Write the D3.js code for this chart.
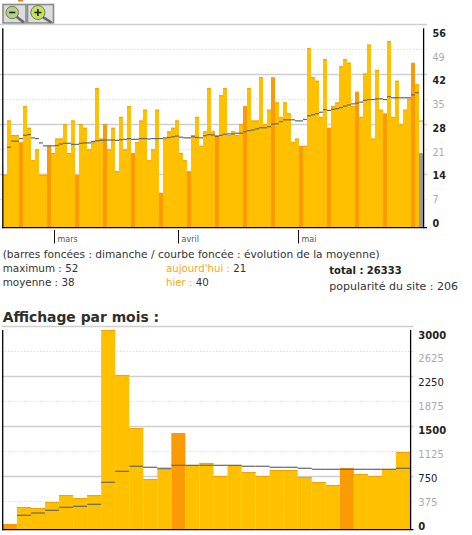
<!DOCTYPE html>
<html><head><meta charset="utf-8">
<script src="https://cdn.jsdelivr.net/npm/d3@7"></script>
<style>html,body{margin:0;padding:0;background:#fff;overflow:hidden}svg{display:block}</style>
</head><body>
<svg id="c" width="472" height="535"></svg>
<script>
// ---------- data: daily views (16 Feb 2011 -> 31 May 2011) ----------
const dailyVisits = [
  15,30,26,26,24,34,28,19,22,15,15,23,21,
  25,25,29,21,30,15,29,28,22,24,39,25,29,
  22,28,16,31,22,34,21,24,30,33,19,22,33,
  10,25,27,28,30,21,19,16,26,31,23,27,39,
  27,26,37,39,26,27,26,29,34,39,30,30,42,
  29,33,42,35,31,35,32,24,25,23,23,50,42,
  41,31,47,28,34,35,45,47,46,34,38,31,43,
  51,25,44,33,32,52,31,41,29,33,36,46,40,21
];
const dailyAverage = [
  null,22.6,24.3,24.3,25.0,25.9,26.1,25.2,25.0,23.8,23.0,23.0,23.0,
  23.1,23.5,23.7,23.7,23.4,23.4,23.7,23.8,23.8,24.2,24.4,24.5,24.6,
  24.6,24.6,24.5,24.7,24.8,25.0,24.8,24.8,25.0,25.0,24.9,25.0,25.0,
  25.0,25.2,25.3,25.5,25.7,25.4,25.2,25.2,25.5,25.3,25.2,25.8,26.1,
  26.0,25.6,25.9,26.2,26.3,26.3,26.5,26.5,26.9,27.2,27.4,27.7,28.0,
  28.0,28.3,29.0,29.1,29.7,30.2,30.2,30.2,29.9,29.9,30.3,31.3,31.6,
  31.9,32.3,33.0,32.8,33.1,33.3,33.6,34.0,34.3,34.6,34.8,35.1,35.6,
  35.8,35.8,36.0,36.0,35.8,36.6,36.3,36.3,36.3,36.3,36.3,37.1,37.7,null
];
const todayProjection = 30;
const days = d3.timeDay.range(new Date(2011,1,16), new Date(2011,5,1));
const monthTickDates = [new Date(2011,2,1), new Date(2011,3,1), new Date(2011,4,1)];
const monthTickLabels = ["mars","avril","mai"];
const dailyTickValues = [0,7,14,21,28,35,42,49,56];

// ---------- data: monthly views (Jan 2009 -> May 2011) ----------
const monthlyViews = [98,350,336,425,528,483,528,2975,2308,1522,765,914,
  1447,973,1003,810,973,869,810,899,899,795,721,676,
  928,839,810,914,1166];
const monthlyAverage = [null,227,261,301,346,360,390,716,879,954,939,924,
  968,968,968,968,968,954,954,939,939,924,909,909,
  909,909,909,909,924];
const months = d3.timeMonth.range(new Date(2009,0,1), new Date(2011,5,1));
const monthlyTickValues = [0,375,750,1125,1500,1875,2250,2625,3000];

const stats = {maximum:52, moyenne:38, aujourdhui:21, hier:40, total:26333, popularite:206};

// ---------- styles ----------
const YELLOW = "#FFC000", SUNDAY = "#FA9A05", EDGE = "#F6A200", AVG = "#666666";
const TEXT = "#333333", ORANGE_TXT = "#F7A823";

const svg = d3.select("#c");

// ---------- zoom icons ----------
function magnifier(g, x0, w, fill, sign) {
  g.append("rect").attr("x", x0).attr("y", 4.5).attr("width", w).attr("height", 18.5)
    .attr("fill", "#dcdcdc").attr("stroke", "#8a8a8a").attr("stroke-width", 1.6);
  const cx = x0 + w * 0.4, cy = 12.5, r = w * 0.27;
  g.append("line").attr("x1", cx + r * 0.6).attr("y1", cy + r * 0.6).attr("x2", x0 + w - 2).attr("y2", 22.5)
    .attr("stroke", "#666").attr("stroke-width", 2.6);
  g.append("circle").attr("cx", cx).attr("cy", cy).attr("r", r)
    .attr("fill", fill).attr("stroke", "#6f7f4f").attr("stroke-width", 1);
  g.append("line").attr("x1", cx - r * 0.5).attr("x2", cx + r * 0.5).attr("y1", cy).attr("y2", cy)
    .attr("stroke", "#222").attr("stroke-width", 1.6);
  if (sign === "+") g.append("line").attr("x1", cx).attr("x2", cx).attr("y1", cy - r * 0.5).attr("y2", cy + r * 0.5)
    .attr("stroke", "#222").attr("stroke-width", 1.6);
}
const icons = svg.append("g");
icons.append("rect").attr("x", 18).attr("y", 0).attr("width", 5).attr("height", 1.5).attr("fill", "#d9822b");
magnifier(icons, 3, 23, "#b9cc8e", "-");
magnifier(icons, 27.5, 26, "#c6e060", "+");

// ---------- generic chart ----------
function drawChart(cfg) {
  const g = svg.append("g");
  const x = d3.scaleBand().domain(cfg.cats).range([cfg.x0, cfg.x1]).paddingInner(0).paddingOuter(0);
  const y = d3.scaleLinear().domain([0, cfg.max]).range(cfg.valueRange);
  const gy = d3.scaleLinear().domain([0, cfg.max]).range(cfg.gridRange);
  const ly = d3.scaleLinear().domain([0, cfg.max]).range(cfg.labelRange);
  const base = cfg.base;

  // gridlines
  g.selectAll("line.grid").data(cfg.ticks.filter(t => t > 0)).join("line")
    .attr("x1", cfg.gridX0).attr("x2", cfg.gridX1)
    .attr("y1", d => Math.round(gy(d)) + 0.5).attr("y2", d => Math.round(gy(d)) + 0.5)
    .attr("stroke", (d, i) => (i % 2 === 1) ? "#cfcfcf" : "#d6d6d6")
    .attr("stroke-width", (d, i) => (i % 2 === 1) ? 1.3 : 1)
    .attr("stroke-dasharray", (d, i) => (i % 2 === 1) ? null : "1.2,2");

  // bars
  const bars = cfg.values.map((v, i) => ({v, i, c: cfg.cats[i]}));
  g.selectAll("rect.bar").data(bars).join("rect")
    .attr("x", d => x(d.c)).attr("width", x.bandwidth())
    .attr("y", d => d.i === cfg.todayIndex ? y(d.v) : y(d.v))
    .attr("height", d => base - y(d.v))
    .attr("fill", d => d.i === cfg.todayIndex ? "#9a9a9a" : (cfg.isDark(d.c) ? SUNDAY : YELLOW));
  // top edges of light bars
  g.selectAll("rect.edge").data(bars.filter(d => d.i !== cfg.todayIndex && !cfg.isDark(d.c))).join("rect")
    .attr("x", d => x(d.c)).attr("width", x.bandwidth())
    .attr("y", d => y(d.v)).attr("height", 1.1).attr("fill", EDGE);

  // today projection
  if (cfg.todayIndex != null) {
    const c = cfg.cats[cfg.todayIndex];
    g.append("rect").attr("x", x(c)).attr("width", x.bandwidth())
      .attr("y", y(cfg.projection)).attr("height", y(cfg.values[cfg.todayIndex]) - y(cfg.projection))
      .attr("fill", "#ececec");
    g.append("rect").attr("x", x(c)).attr("width", x.bandwidth())
      .attr("y", y(cfg.projection)).attr("height", 1.1).attr("fill", EDGE);
  }

  // average segments
  g.selectAll("line.avg").data(cfg.avg.map((v, i) => ({v, c: cfg.cats[i]})).filter(d => d.v != null)).join("line")
    .attr("x1", d => x(d.c)).attr("x2", d => x(d.c) + x.bandwidth())
    .attr("y1", d => y(d.v)).attr("y2", d => y(d.v))
    .attr("stroke", AVG).attr("stroke-width", 1.2);

  // axes lines
  const axisTop = cfg.axisTop;
  g.append("line").attr("x1", cfg.x0 - 0.2).attr("x2", cfg.x0 - 0.2).attr("y1", axisTop).attr("y2", base + 1.2)
    .attr("stroke", "#000").attr("stroke-width", 1.3);
  g.append("line").attr("x1", cfg.x1 + 0.6).attr("x2", cfg.x1 + 0.6).attr("y1", axisTop).attr("y2", base + 1.2)
    .attr("stroke", "#000").attr("stroke-width", 1.3);
  g.append("line").attr("x1", cfg.x0 - 0.8).attr("x2", cfg.gridX1).attr("y1", base + 0.6).attr("y2", base + 0.6)
    .attr("stroke", "#000").attr("stroke-width", 1.3);

  // labels
  g.selectAll("text.lab").data(cfg.ticks).join("text")
    .attr("x", cfg.labelX).attr("y", d => ly(d)).attr("dy", "0.36em")
    .attr("font-family", "'DejaVu Sans', sans-serif").attr("font-size", cfg.labelSize)
    .attr("font-weight", (d, i) => cfg.boldIdx.includes(i) ? "bold" : "normal")
    .attr("fill", (d, i) => i % 2 === 1 ? "#aaaaaa" : "#222222")
    .text(d => d);
  return {x, y};
}

// ---------- daily chart ----------
const daily = drawChart({
  cats: days, values: dailyVisits, avg: dailyAverage, max: 56,
  x0: 3, x1: 423, base: 227,
  valueRange: [228.9, 26.6], gridRange: [224.3, 24.3], labelRange: [223.3, 33.3],
  gridX0: 0, gridX1: 427, axisTop: 28.3,
  ticks: dailyTickValues, labelX: 432.5, labelSize: 9.6, boldIdx: [0, 2, 4, 6, 8],
  isDark: d => d.getDay() === 0, todayIndex: dailyVisits.length - 1, projection: todayProjection
});

// month ticks
const mt = svg.append("g");
monthTickDates.forEach((d, i) => {
  const xx = Math.round(daily.x(d)) - 0.5;
  mt.append("line").attr("x1", xx).attr("x2", xx).attr("y1", 230).attr("y2", 243.5)
    .attr("stroke", "#111").attr("stroke-width", 1);
  mt.append("text").attr("x", xx + 3).attr("y", 242).attr("font-family", "'DejaVu Sans', sans-serif")
    .attr("font-size", 8).attr("fill", "#555").text(monthTickLabels[i]);
});

// ---------- stats text ----------
const t = svg.append("g").attr("font-family", "'DejaVu Sans', sans-serif").attr("fill", TEXT);
t.append("text").attr("x", 2.7).attr("y", 257.5).attr("font-size", 10.6)
  .text("(barres foncées : dimanche / courbe foncée : évolution de la moyenne)");
t.append("text").attr("x", 2.7).attr("y", 272).attr("font-size", 10.4).text("maximum : " + stats.maximum);
t.append("text").attr("x", 2.7).attr("y", 286).attr("font-size", 10.4).text("moyenne : " + stats.moyenne);
const a1 = t.append("text").attr("x", 166).attr("y", 272).attr("font-size", 10.2);
a1.append("tspan").attr("fill", ORANGE_TXT).text("aujourd'hui : ");
a1.append("tspan").text(stats.aujourdhui);
const a2 = t.append("text").attr("x", 166).attr("y", 286).attr("font-size", 10.2);
a2.append("tspan").attr("fill", ORANGE_TXT).text("hier : ");
a2.append("tspan").text(stats.hier);
t.append("text").attr("x", 329.3).attr("y", 274).attr("font-size", 10).attr("font-weight", "bold")
  .attr("fill", "#222").text("total : " + stats.total);
t.append("text").attr("x", 329.3).attr("y", 290.3).attr("font-size", 11).text("popularité du site : " + stats.popularite);
t.append("text").attr("x", 2.7).attr("y", 322).attr("font-size", 13.9).attr("font-weight", "bold")
  .attr("fill", "#2e2e2e").text("Affichage par mois :");

// ---------- monthly chart ----------
drawChart({
  cats: months, values: monthlyViews, avg: monthlyAverage, max: 3000,
  x0: 2.9, x1: 410, base: 529,
  valueRange: [530.6, 328.3], gridRange: [526, 326], labelRange: [526, 335],
  gridX0: 1.5, gridX1: 413.5, axisTop: 330,
  ticks: monthlyTickValues, labelX: 418.3, labelSize: 10, boldIdx: [0, 4, 8],
  isDark: d => d.getMonth() === 0, todayIndex: null
});
// the top grid line (3000) is always solid in the reference
</script>
</body></html>
